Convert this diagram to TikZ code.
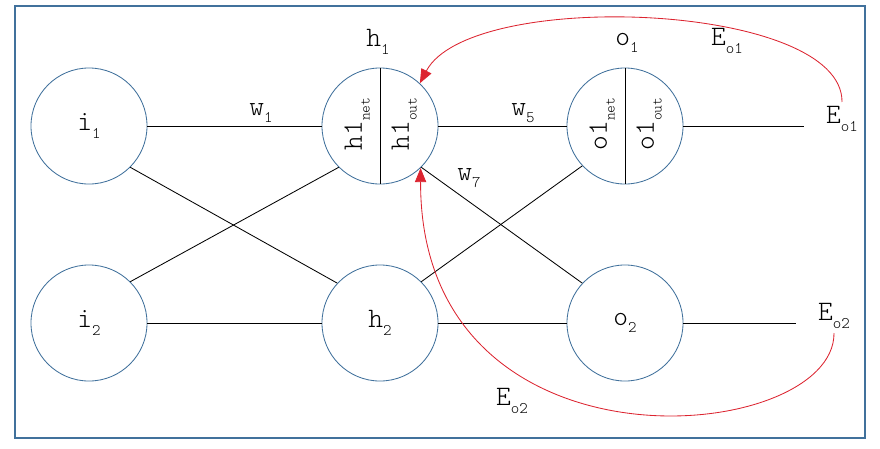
\documentclass[tikz,border=0pt]{standalone}
\usepackage{tikz}
\usetikzlibrary{arrows.meta}
\definecolor{nodeblue}{HTML}{41719C}
\definecolor{errred}{HTML}{DC2430}
% lowered index, as the drawing tool sets it
\newcommand{\lo}[2][11.5]{\raisebox{-5.5pt}{\fontsize{#1}{#1}\selectfont #2}}

\begin{document}
\begin{tikzpicture}[
  x=0.025cm, y=-0.025cm,
  neuron/.style={draw=nodeblue, circle, minimum size=2.9cm, inner sep=0pt, line width=0.6pt, font=\ttfamily\fontseries{l}\fontsize{20}{22}\selectfont},
  half/.style={rotate=90, inner sep=0pt, font=\ttfamily\fontseries{l}\fontsize{20}{22}\selectfont},
  lbl/.style={inner sep=3pt, font=\ttfamily\fontseries{l}\fontsize{20}{22}\selectfont},
  wire/.style={line width=0.6pt},
  err/.style={errred, line width=0.6pt, -{Triangle[length=10pt,width=8pt]}}
]
\useasboundingbox (0,0) rectangle (880,448);
\draw[nodeblue, line width=0.8pt] (15,6) rectangle (865,438);

\node[neuron] (i1) at (89,126) {i\lo{1}};
\node[neuron] (i2) at (89,323) {i\lo{2}};
\node[neuron] (h1) at (380,126) {};
\node[neuron] (h2) at (380,323) {h\lo{2}};
\node[neuron] (o1) at (625,126) {};
\node[neuron] (o2) at (625,323) {o\lo{2}};

% split neurons: net input on the left, output on the right
\draw[wire] (h1.north) -- (h1.south);
\node[half] (h1net) at (357,124) {h1\lo[10.5]{net}};
\node[half] (h1out) at (404,124) {h1\lo[10.5]{out}};
\draw[wire] (o1.north) -- (o1.south);
\node[half] (o1net) at (602,124) {o1\lo[10.5]{net}};
\node[half] (o1out) at (649,124) {o1\lo[10.5]{out}};

\node[lbl] (h1lbl) at (378,42) {h\lo{1}};
\node[lbl] (o1lbl) at (627,43) {o\lo{1}};
\node[lbl] (w1) at (261,113) {w\lo{1}};
\node[lbl] (w5) at (523,113) {w\lo{5}};
\node[lbl] (w7) at (469,178) {w\lo{7}};
\node[lbl] (eo1) at (842,119) {E\lo{o1}};
\node[lbl] (eo2) at (834,316) {E\lo{o2}};
\node[lbl] (eo1top) at (727,41) {E\lo{o1}};
\node[lbl] (eo2bot) at (512,401) {E\lo{o2}};

\draw[wire] (i1) -- (h1);
\draw[wire] (i1.-45) -- (h2.137);
\draw[wire] (i2.45) -- (h1.225);
\draw[wire] (i2) -- (h2);
\draw[wire] (h1) -- (o1);
\draw[wire] (h1.-45) -- (o2.137);
\draw[wire] (h2.45) -- (o1.223);
\draw[wire] (h2) -- (o2);
\draw[wire, shorten >=0.45cm] (o1.east) -- (o1.east -| eo1.west);
\draw[wire, shorten >=0.45cm] (o2.east) -- (o2.east -| eo2.west);

\draw[err] (eo1.north) .. controls (843,2) and (470,-12) .. (h1.47);
\draw[err] (eo2.south) .. controls (835,445) and (420,485) .. (h1.-46);
\end{tikzpicture}
\end{document}
